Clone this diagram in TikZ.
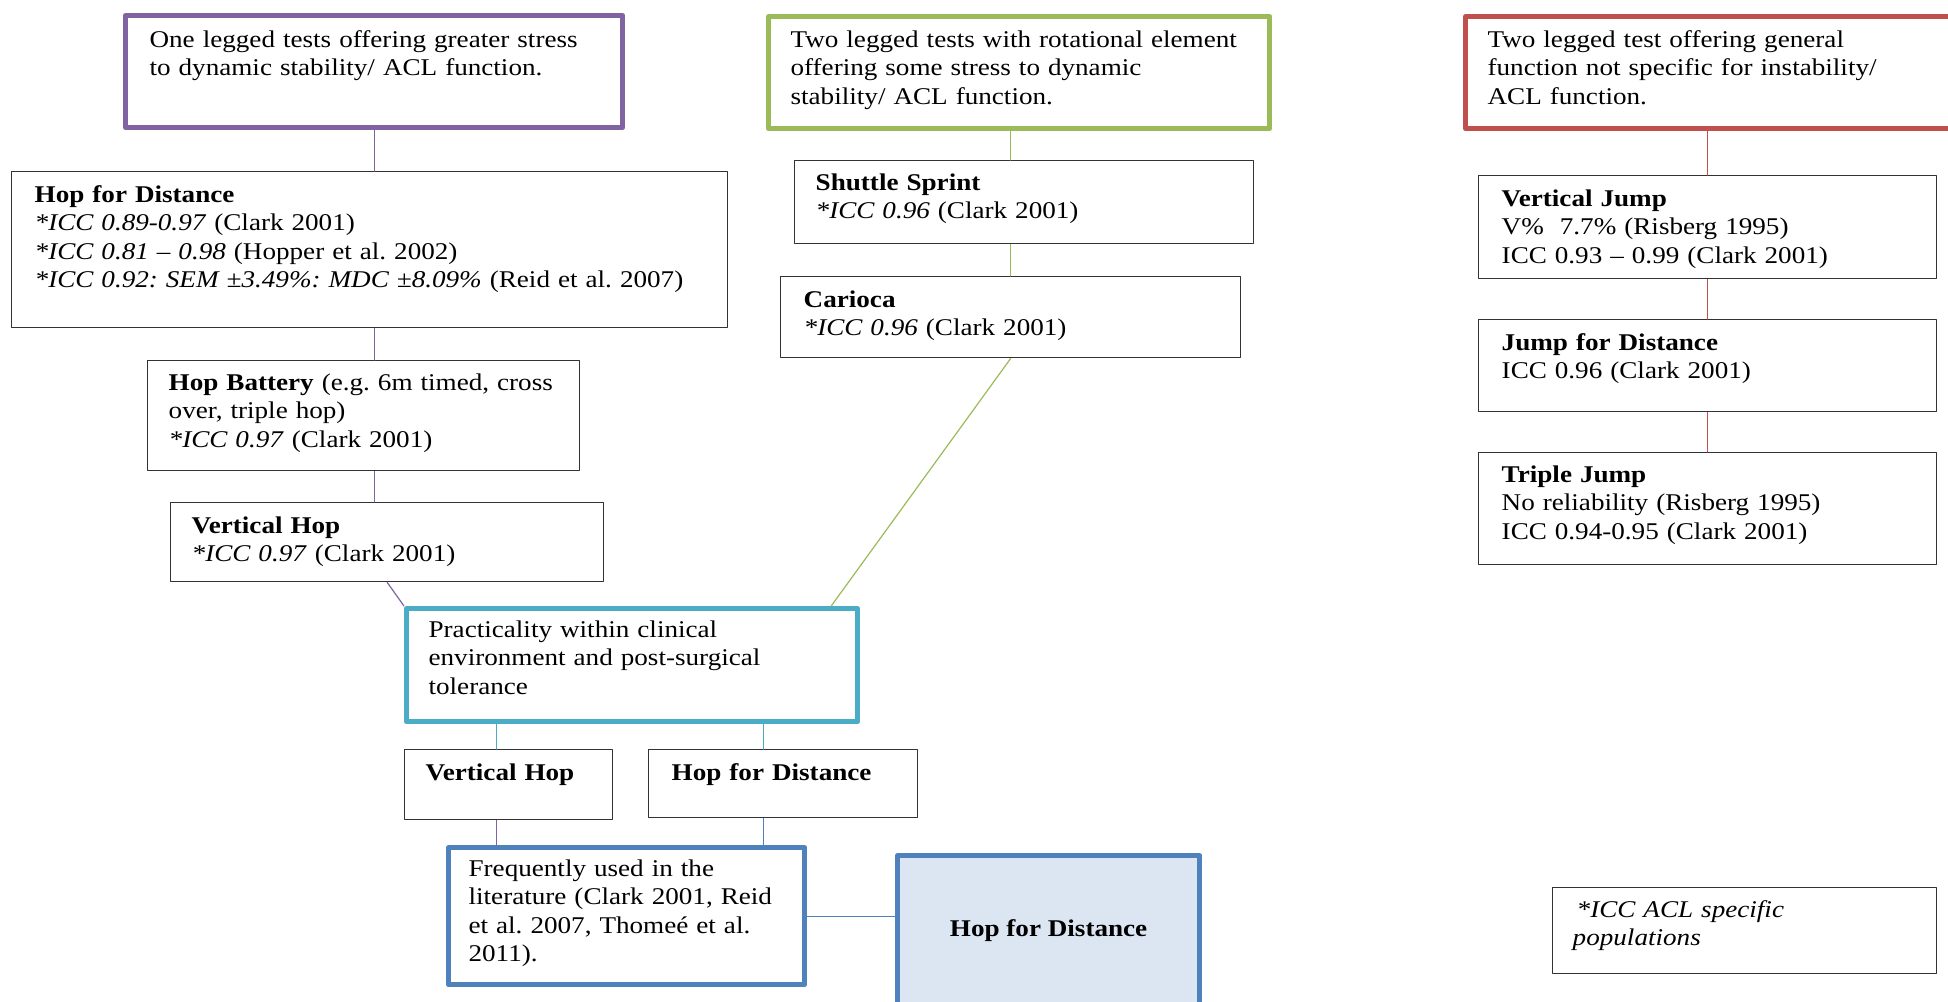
\documentclass[tikz,border=0pt]{standalone}
\usepackage{fontspec}
\setmainfont{Liberation Serif}[FakeStretch=1.13]
\definecolor{acpurple}{HTML}{8064A2}
\definecolor{acgreen}{HTML}{9BBB59}
\definecolor{acred}{HTML}{C0504D}
\definecolor{acteal}{HTML}{4BACC6}
\definecolor{acblue}{HTML}{4F81BD}
\definecolor{acfill}{HTML}{DCE6F2}
\newcommand{\icc}[1]{\textit{*ICC #1}}
\frenchspacing

\begin{document}
\begin{tikzpicture}[x=0.5pt,y=-0.5pt,line cap=round,line join=round,
  tbox/.style={draw=black!80,line width=0.7pt,anchor=north west,align=left,inner ysep=0pt,font=\fontsize{12}{14.1}\selectfont},
  hdr/.style={tbox,line width=2.6pt},
  conn/.style={line width=0.6pt}]
  \useasboundingbox (0,0) rectangle (1948,1001);
  \node[hdr,draw=acpurple,inner xsep=12pt,text width=224.5pt,text height=16pt,text depth=40pt] (hdrOne) at (123,13)
    {One legged tests offering greater stress\\to dynamic stability/ ACL function.};
  \node[hdr,draw=acgreen,inner xsep=11pt,text width=228.5pt,text height=15.5pt,text depth=40.5pt] (hdrTwo) at (766,14)
    {Two legged tests with rotational element\\offering some stress to dynamic\\stability/ ACL function.};
  \node[hdr,draw=acred,inner xsep=11pt,text width=227.5pt,text height=15.5pt,text depth=40.5pt] (hdrThree) at (1463,14)
    {Two legged test offering general\\function not specific for instability/\\ACL function.};
  \node[tbox,inner xsep=11.5pt,text width=335pt,text height=15.5pt,text depth=62.5pt] (hfdOne) at (11,171)
    {\textbf{Hop for Distance}\\\icc{0.89-0.97} (Clark 2001)\\\icc{0.81 -- 0.98} (Hopper et al. 2002)\\\icc{0.92: SEM ±3.49\%: MDC ±8.09\%} (Reid et al. 2007)};
  \node[tbox,inner xsep=10.5pt,text width=195pt,text height=15pt,text depth=40pt] (hopBattery) at (147,360)
    {\textbf{Hop Battery} (e.g. 6m timed, cross\\over, triple hop)\\\icc{0.97} (Clark 2001)};
  \node[tbox,inner xsep=10.5pt,text width=195.5pt,text height=15.5pt,text depth=24pt] (vhopOne) at (170,502)
    {\textbf{Vertical Hop}\\\icc{0.97} (Clark 2001)};
  \node[hdr,draw=acteal,inner xsep=11pt,text width=203.5pt,text height=14.5pt,text depth=42pt] (practical) at (404,606)
    {Practicality within clinical\\environment and post-surgical\\tolerance};
  \node[tbox,inner xsep=10.5pt,text width=208.5pt,text height=15pt,text depth=26.5pt] (shuttle) at (794,160)
    {\textbf{Shuttle Sprint}\\\icc{0.96} (Clark 2001)};
  \node[tbox,inner xsep=11.5pt,text width=207pt,text height=15.5pt,text depth=25pt] (carioca) at (780,276)
    {\textbf{Carioca}\\\icc{0.96} (Clark 2001)};
  \node[tbox,inner xsep=11.5pt,text width=206pt,text height=15.5pt,text depth=36pt] (vjump) at (1478,175)
    {\textbf{Vertical Jump}\\V\%~~7.7\% (Risberg 1995)\\ICC 0.93 -- 0.99 (Clark 2001)};
  \node[tbox,inner xsep=11.5pt,text width=206pt,text height=15.5pt,text depth=30.5pt] (jumpDist) at (1478,319)
    {\textbf{Jump for Distance}\\ICC 0.96 (Clark 2001)};
  \node[tbox,inner xsep=11.5pt,text width=206pt,text height=15pt,text depth=41pt] (triple) at (1478,452)
    {\textbf{Triple Jump}\\No reliability (Risberg 1995)\\ICC 0.94-0.95 (Clark 2001)};
  \node[tbox,inner xsep=10.5pt,text width=83pt,text height=15.5pt,text depth=19.5pt] (vhopTwo) at (404,749)
    {\textbf{Vertical Hop}};
  \node[tbox,inner xsep=11.5pt,text width=111.5pt,text height=15.5pt,text depth=18.5pt] (hfdTwo) at (648,749)
    {\textbf{Hop for Distance}};
  \node[hdr,draw=acblue,inner xsep=10pt,text width=158pt,text height=14.5pt,text depth=54pt] (frequent) at (446,845)
    {Frequently used in the\\literature (Clark 2001, Reid\\et al. 2007, Thomeé et al.\\2011).};
  \node[hdr,draw=acblue,fill=acfill,align=center,inner sep=0pt,minimum width=151pt,minimum height=75pt,font=\fontsize{12}{14.1}\selectfont\bfseries] (hfdFinal) at (895,853)
    {Hop for Distance};
  \node[tbox,inner xsep=10pt,text width=172pt,text height=15pt,text depth=28pt] (legend) at (1552,887)
    {\hspace*{2pt}\icc{ACL specific}\\\textit{populations}};
  \foreach \a/\b in {hdrOne/hfdOne,hfdOne/hopBattery,hopBattery/vhopOne}
    \draw[conn,acpurple] (hdrOne.south |- \a.south) -- (hdrOne.south |- \b.north);
  \foreach \a/\b in {hdrTwo/shuttle,shuttle/carioca}
    \draw[conn,acgreen] (carioca.north |- \a.south) -- (carioca.north |- \b.north);
  \foreach \a/\b in {hdrThree/vjump,vjump/jumpDist,jumpDist/triple}
    \draw[conn,acred] (vjump.north |- \a.south) -- (vjump.north |- \b.north);
  \draw[conn,acpurple] (vhopOne.south) -- (practical.north west);
  \draw[conn,acgreen] (carioca.south) -- ([xshift=-14.5pt]practical.north east);
  \coordinate (colA) at ([xshift=-6pt]vhopTwo.north);
  \coordinate (colB) at ([xshift=-10pt]hfdTwo.north);
  \draw[conn,acteal] (colA) -- (colA |- practical.south);
  \draw[conn,acteal] (colB) -- (colB |- practical.south);
  \draw[conn,acpurple] (colA |- vhopTwo.south) -- (colA |- frequent.north);
  \draw[conn,acblue] (colB |- hfdTwo.south) -- (colB |- frequent.north);
  \draw[conn,acblue] (frequent.east) -- (frequent.east -| hfdFinal.west);
\end{tikzpicture}
\end{document}
